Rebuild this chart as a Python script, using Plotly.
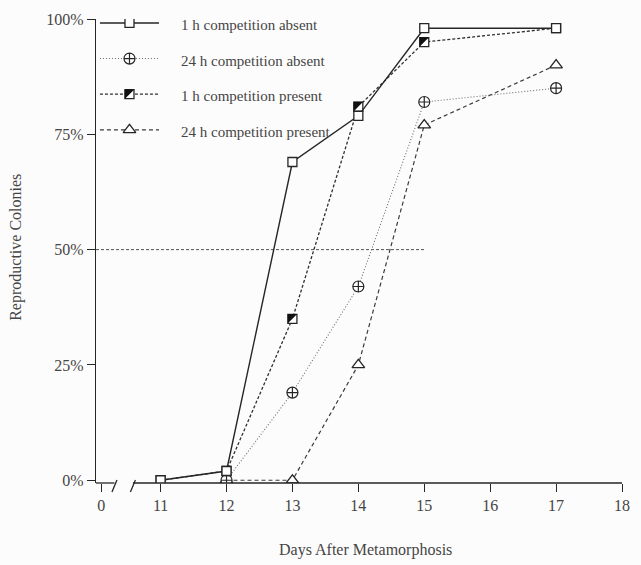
import plotly.graph_objects as go

# ---- data -----------------------------------------------------------------
days_1h = [11, 12, 13, 14, 15, 17]
days_24h = [12, 13, 14, 15, 17]

absent_1h = [0, 2, 69, 79, 98, 98]      # % reproductive colonies
absent_24h = [0, 19, 42, 82, 85]
present_1h = [0, 2, 35, 81, 95, 98]
present_24h = [0, 0, 25, 77, 90]

series_names = [
    "1 h competition absent",
    "24 h competition absent",
    "1 h competition present",
    "24 h competition present",
]

x_tick_vals = [10.1, 11, 12, 13, 14, 15, 16, 17, 18]
x_tick_text = ["0", "11", "12", "13", "14", "15", "16", "17", "18"]
y_tick_vals = [0, 25, 50, 75, 100]
y_tick_text = ["0%", "25%", "50%", "75%", "100%"]
half_mark = 50
half_mark_end = 15

# ---- styling --------------------------------------------------------------
FONT = "Liberation Serif"
TXT = "#454545"
INK = "#262626"
BG = "#fdfcfc"

X_LO, X_HI = 10.02, 18
BREAK_L, BREAK_R = 10.3, 10.58

SQ = 9                     # square marker size (px)
HALF = SQ / 2 + 0.3        # half-side of the black corner of the split square

styles = {
    "1ha": dict(line=dict(color=INK, width=1.4),
                marker=dict(symbol="square", size=SQ, color="white",
                            line=dict(color=INK, width=1.3))),
    "24ha": dict(line=dict(color="#6e6e6e", width=1.1, dash="1px,2px"),
                 marker=dict(symbol="circle-cross", size=11, color="white",
                             line=dict(color=INK, width=1.2))),
    "1hp": dict(line=dict(color="#303030", width=1.3, dash="3px,2px"),
                marker=dict(symbol="square", size=SQ, color="white",
                            line=dict(color=INK, width=1.3))),
    "24hp": dict(line=dict(color="#3a3a3a", width=1.2, dash="4px,3px"),
                 marker=dict(symbol="triangle-up", size=11, color="white",
                             line=dict(color=INK, width=1.3))),
}

# upper-left black half of a square marker, in pixels around its anchor
HALF_PATH = f"M{-HALF},{-HALF} L{-HALF},{HALF} L{HALF},{HALF} Z"


def half_fill(xref, yref, xa, ya):
    return dict(type="path", xref=xref, yref=yref,
                xsizemode="pixel", ysizemode="pixel",
                xanchor=xa, yanchor=ya, path=HALF_PATH,
                fillcolor="#111", line=dict(width=0))


fig = go.Figure()

# data traces, drawn back to front
fig.add_trace(go.Scatter(x=days_24h, y=present_24h, mode="lines+markers",
                         showlegend=False, **styles["24hp"]))
fig.add_trace(go.Scatter(x=days_24h, y=absent_24h, mode="lines+markers",
                         showlegend=False, **styles["24ha"]))
fig.add_trace(go.Scatter(x=days_1h, y=present_1h, mode="lines+markers",
                         showlegend=False, **styles["1hp"]))
fig.add_trace(go.Scatter(x=days_1h, y=absent_1h, mode="lines+markers",
                         showlegend=False, **styles["1ha"]))

shapes = []
# black halves of the "1 h present" squares (where not hidden by the open square)
for d, p, a in zip(days_1h, present_1h, absent_1h):
    if p != a:
        shapes.append(half_fill("x", "y", d, p))

# ---- key (pixel-space overlay axes) ----------------------------------------
KEY_X0, KEY_XM, KEY_X1, KEY_TX = 100, 130, 160, 180
KEY_ROWS = [18, 54, 90, 126]
key_order = ["1ha", "24ha", "1hp", "24hp"]

annotations = []
for key, row, name in zip(key_order, KEY_ROWS, series_names):
    st = styles[key]
    fig.add_trace(go.Scatter(x=[KEY_X0, KEY_X1], y=[row, row], mode="lines",
                             line=st["line"], xaxis="x2", yaxis="y2",
                             showlegend=False, hoverinfo="skip"))
    fig.add_trace(go.Scatter(x=[KEY_XM], y=[row], mode="markers",
                             marker=st["marker"], xaxis="x2", yaxis="y2",
                             showlegend=False, hoverinfo="skip"))
    if key == "1hp":
        shapes.append(half_fill("x2", "y2", KEY_XM, row))
    annotations.append(dict(x=KEY_TX, y=row + 2, xref="x2", yref="y2",
                            text=name, showarrow=False, xanchor="left",
                            yanchor="middle",
                            font=dict(family=FONT, size=15, color=TXT)))

# ---- axes decorations -----------------------------------------------------
axis_line = dict(color=INK, width=1.3)
shapes += [
    # broken x axis
    dict(type="line", xref="x", yref="paper", x0=X_LO, x1=BREAK_L, y0=0, y1=0,
         line=axis_line),
    dict(type="line", xref="x", yref="paper", x0=BREAK_R, x1=X_HI, y0=0, y1=0,
         line=axis_line),
    # 50% reference line
    dict(type="line", xref="x", yref="y", x0=X_LO, x1=half_mark_end,
         y0=half_mark, y1=half_mark, layer="below",
         line=dict(color="#555", width=1, dash="3px,2px")),
]
for bx in (BREAK_L, BREAK_R):
    shapes.append(dict(type="line", xref="x", yref="paper",
                       xsizemode="pixel", xanchor=bx, x0=-2.5, x1=2.5,
                       ysizemode="pixel", yanchor=0, y0=-9, y1=3,
                       line=axis_line))

annotations += [
    dict(text="Days After Metamorphosis", xref="paper", yref="paper",
         x=0.513, y=-0.145, xanchor="center", yanchor="middle",
         showarrow=False, font=dict(family=FONT, size=16, color=TXT)),
    dict(text="Reproductive Colonies", xref="paper", yref="paper",
         x=-0.152, y=0.507, xanchor="center", yanchor="middle",
         textangle=-90, showarrow=False,
         font=dict(family=FONT, size=16, color=TXT)),
]

tick_font = dict(family=FONT, size=16, color=TXT)

fig.update_layout(
    width=641, height=565, autosize=False,
    margin=dict(l=96, r=11, t=14, b=82),
    paper_bgcolor=BG, plot_bgcolor=BG,
    shapes=shapes,
    annotations=annotations,
    xaxis=dict(range=[X_LO, X_HI], tickmode="array", tickvals=x_tick_vals,
               ticktext=x_tick_text, ticks="outside", ticklen=8, tickwidth=1.2,
               tickcolor=INK, showline=False, showgrid=False, zeroline=False,
               tickfont=tick_font),
    yaxis=dict(range=[-0.6, 100], tickmode="array", tickvals=y_tick_vals,
               ticktext=y_tick_text, ticks="outside", ticklen=8, tickwidth=1.2,
               tickcolor=INK, showline=True, linecolor=INK, linewidth=1.3,
               showgrid=False, zeroline=False, tickfont=tick_font),
    xaxis2=dict(overlaying="x", anchor="y2", range=[96, 630], visible=False),
    yaxis2=dict(overlaying="y", anchor="x2", range=[483, 14], visible=False),
)

fig.write_html("out.html")
